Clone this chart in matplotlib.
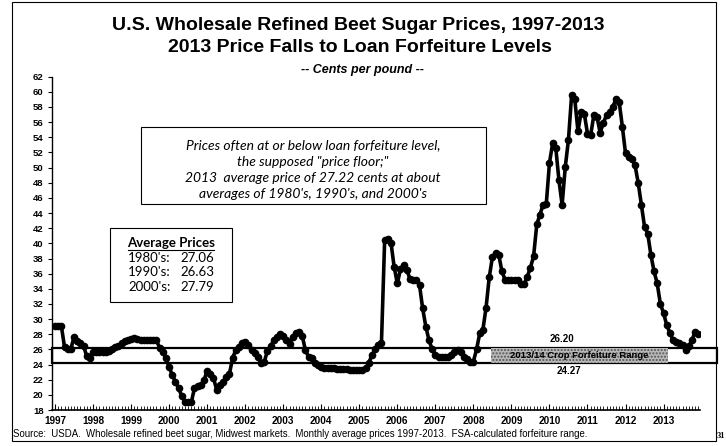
import matplotlib
matplotlib.use('Agg')
import matplotlib.pyplot as plt
from matplotlib.patches import Rectangle
import numpy as np

# ---------------- data (cents per pound, monthly 1997-2013) ----------------
p1997 = [29.1, 29.1, 29.1, 26.3, 26.0, 26.1, 27.6, 27.1, 26.9, 26.5, 25.1, 24.9]
p1998 = [25.6, 25.6, 25.6, 25.6, 25.7, 25.8, 26.1, 26.3, 26.5, 26.8, 27.1, 27.2]
p1999 = [27.4, 27.5, 27.4, 27.3, 27.3, 27.3, 27.3, 27.3, 27.2, 26.2, 25.7, 24.8]
p2000 = [23.7, 22.6, 21.7, 20.9, 19.8, 19.1, 19.0, 19.0, 20.9, 21.2, 21.3, 21.9]
p2001 = [23.2, 22.8, 22.2, 20.7, 21.3, 21.7, 22.3, 22.7, 24.8, 25.9, 26.3, 26.9]
p2002 = [27.0, 26.6, 25.9, 25.5, 25.0, 24.2, 24.3, 25.8, 26.4, 27.2, 27.6, 28.0]
p2003 = [27.8, 27.2, 26.7, 27.7, 28.2, 28.3, 27.8, 25.9, 25.0, 24.8, 24.2, 23.9]
p2004 = [23.7, 23.6, 23.6, 23.5, 23.5, 23.4, 23.4, 23.4, 23.4, 23.3, 23.3, 23.3]
p2005 = [23.3, 23.3, 23.5, 24.2, 25.3, 26.0, 26.6, 26.9, 40.4, 40.6, 40.1, 36.9]
p2006 = [34.7, 36.6, 37.2, 36.5, 35.3, 35.2, 35.2, 34.5, 31.4, 29.0, 27.2, 26.0]
p2007 = [25.3, 25.0, 25.0, 25.0, 25.0, 25.2, 25.6, 25.9, 25.6, 25.0, 24.7, 24.4]
p2008 = [24.4, 26.0, 28.1, 28.6, 31.5, 35.5, 38.2, 38.7, 38.5, 36.3, 35.2, 35.2]
p2009 = [35.2, 35.2, 35.2, 34.6, 34.6, 35.6, 36.8, 38.3, 42.5, 43.8, 45.1, 45.2]
p2010 = [50.6, 53.2, 52.6, 48.3, 45.1, 50.1, 53.7, 59.6, 59.0, 54.8, 57.3, 57.1]
p2011 = [54.5, 54.3, 56.9, 56.7, 54.6, 55.9, 56.9, 57.4, 58.0, 59.1, 58.7, 55.4]
p2012 = [51.9, 51.4, 51.1, 50.3, 48.0, 45.1, 42.2, 41.3, 38.5, 36.3, 34.7, 32.0]
p2013 = [30.8, 29.2, 28.2, 27.2, 27.0, 26.8, 26.6, 25.9, 26.4, 27.3, 28.3, 28.0]

years = list(range(1997, 2014))
prices = (p1997 + p1998 + p1999 + p2000 + p2001 + p2002 + p2003 + p2004 + p2005
          + p2006 + p2007 + p2008 + p2009 + p2010 + p2011 + p2012 + p2013)
months = np.arange(len(prices))

forfeit_low = 24.27
forfeit_high = 26.20
avg_decades = ["1980's:", "1990's:", "2000's:"]
avg_values = [27.06, 26.63, 27.79]

# ---------------- layout helpers (pixel coordinates) ----------------
W, H = 726, 446
fig = plt.figure(figsize=(W / 100, H / 100), dpi=100)
def fx(px): return px / W
def fy(py): return 1 - py / H

ax = fig.add_axes([fx(52), fy(410), fx(700) - fx(52), fy(76.7) - fy(410)])
x0, x1 = -0.95, 203.5
ax.set_xlim(x0, x1)
ax.set_ylim(18, 62)

ax.plot(months, prices, color='black', lw=2.6, marker='o', ms=4.5,
        mfc='black', mec='black', zorder=4)

# forfeiture range box (extends past the axis to the right like the original)
xr = 209.0
ax.add_patch(Rectangle((x0, forfeit_low), xr - x0, forfeit_high - forfeit_low,
                       fill=False, ec='black', lw=1.6, zorder=3, clip_on=False))
lab_l, lab_r = 137.5, 193.5
ax.add_patch(Rectangle((lab_l, forfeit_low), lab_r - lab_l, forfeit_high - forfeit_low,
                       facecolor='#b8b8b8', edgecolor='#555555', hatch='.....',
                       lw=0.0, zorder=3.5))
ax.text((lab_l + lab_r) / 2, (forfeit_low + forfeit_high) / 2, "2013/14 Crop Forfeiture Range",
        ha='center', va='center', fontsize=6.8, fontweight='bold', color='black',
        family='Liberation Sans', zorder=5)
ax.text(160, forfeit_high + 0.45, f"{forfeit_high:.2f}", ha='center', va='bottom',
        fontsize=7, fontweight='bold', family='Liberation Sans')
ax.text(162, forfeit_low - 0.45, f"{forfeit_low:.2f}", ha='center', va='top',
        fontsize=7, fontweight='bold', family='Liberation Sans')

# axes styling
for s in ['top', 'right']:
    ax.spines[s].set_visible(False)
ax.spines['left'].set_linewidth(1.0)
ax.spines['bottom'].set_linewidth(1.2)
ax.set_yticks(np.arange(18, 63, 2))
ax.set_yticklabels([str(v) for v in range(18, 63, 2)], fontsize=6.8,
                   fontweight='bold', family='Liberation Sans')
ax.tick_params(axis='y', direction='out', length=3, width=0.8, pad=3)
ax.set_xticks(np.arange(0, len(prices), 12))
ax.set_xticklabels([str(y) for y in years], fontsize=7.2, fontweight='bold',
                   family='Liberation Sans')
ax.set_xticks(months, minor=True)
ax.tick_params(axis='x', which='major', direction='in', length=4, width=0.8, pad=4)
ax.tick_params(axis='x', which='minor', direction='in', length=3, width=0.6)

# ---------------- titles ----------------
fig.text(fx(358), fy(26), "U.S. Wholesale Refined Beet Sugar Prices, 1997-2013",
         ha='center', va='center', fontsize=14, fontweight='bold', family='Liberation Sans')
fig.text(fx(360), fy(48), "2013 Price Falls to Loan Forfeiture Levels",
         ha='center', va='center', fontsize=14, fontweight='bold', family='Liberation Sans')
fig.text(fx(362), fy(70), "-- Cents per pound --", ha='center', va='center',
         fontsize=9, fontweight='bold', style='italic', family='Liberation Sans')

# ---------------- annotation boxes ----------------
fig.patches.append(Rectangle((fx(141), fy(204)), fx(486) - fx(141), fy(127) - fy(204),
                             transform=fig.transFigure, fill=False, ec='black', lw=0.8))
note_lines = ["Prices often at or below loan forfeiture level,",
              "the supposed \"price floor;\"",
              "2013  average price of 27.22 cents at about",
              "averages of 1980's, 1990's, and 2000's"]
for k, line in enumerate(note_lines):
    fig.text(fx(313), fy(145 + 16.5 * k), line, ha='center', va='center',
             fontsize=10, style='italic', family='Lato')

fig.patches.append(Rectangle((fx(110), fy(302)), fx(232) - fx(110), fy(228) - fy(302),
                             transform=fig.transFigure, fill=False, ec='black', lw=0.8))
fig.text(fx(171), fy(243), "Average Prices", ha='center', va='center', fontsize=9.5,
         fontweight='bold', family='Lato')
fig.add_artist(plt.Line2D([fx(128), fx(214)], [fy(250), fy(250)],
                          transform=fig.transFigure, color='black', lw=0.8))
for k, (d, v) in enumerate(zip(avg_decades, avg_values)):
    fig.text(fx(128), fy(258 + 14.5 * k), d, ha='left', va='center', fontsize=9.5, family='Lato')
    fig.text(fx(214), fy(258 + 14.5 * k), f"{v:.2f}", ha='right', va='center',
             fontsize=9.5, family='Lato')

# ---------------- source & frame ----------------
fig.text(fx(13), fy(434), "Source:  USDA.  Wholesale refined beet sugar, Midwest markets.  "
         "Monthly average prices 1997-2013.  FSA-calculated forfeiture range.",
         ha='left', va='center', fontsize=6.9, family='Liberation Sans')
fig.text(fx(725), fy(436), "31", ha='right', va='center', fontsize=6, fontweight='bold',
         family='Liberation Serif')
fig.patches.append(Rectangle((fx(12), fy(441)), fx(716) - fx(12), fy(2) - fy(441),
                             transform=fig.transFigure, fill=False, ec='black', lw=0.8))

fig.savefig('out.png', dpi=100)
